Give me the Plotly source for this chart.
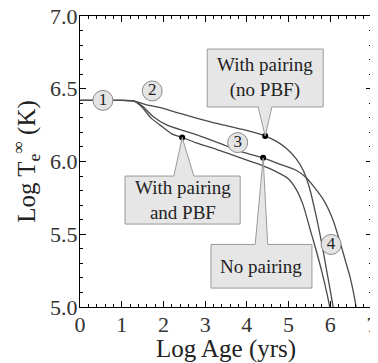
import plotly.graph_objects as go

# ---- data ----
pair_nopbf_x = [0, 0.5, 1.0, 1.3, 1.6, 1.93, 2.4, 2.77, 3.3, 3.9, 4.44, 4.7, 4.95, 5.18, 5.35, 5.5, 5.65, 5.8, 5.92, 6.02, 6.08]
pair_nopbf_y = [6.42, 6.42, 6.42, 6.415, 6.39, 6.37, 6.33, 6.30, 6.26, 6.22, 6.175, 6.14, 6.09, 6.02, 5.94, 5.82, 5.64, 5.43, 5.24, 5.08, 4.98]

nopair_x = [0, 0.5, 1.0, 1.3, 1.5, 1.75, 2.09, 2.5, 2.88, 3.4, 3.9, 4.39, 4.8, 5.18, 5.42, 5.83, 6.05, 6.24, 6.37, 6.47, 6.57, 6.63]
nopair_y = [6.42, 6.42, 6.42, 6.415, 6.38, 6.31, 6.25, 6.21, 6.175, 6.12, 6.065, 6.025, 5.98, 5.94, 5.89, 5.74, 5.61, 5.44, 5.31, 5.21, 5.08, 4.98]

pair_pbf_x = [0, 0.5, 1.0, 1.3, 1.5, 1.7, 1.92, 2.2, 2.45, 2.77, 3.3, 3.8, 4.3, 4.7, 5.0, 5.2, 5.35, 5.5, 5.65, 5.8, 5.93, 6.0]
pair_pbf_y = [6.42, 6.42, 6.42, 6.415, 6.37, 6.30, 6.25, 6.19, 6.165, 6.13, 6.08, 6.03, 5.98, 5.93, 5.88, 5.80, 5.70, 5.55, 5.40, 5.24, 5.08, 4.98]

dot_x = [4.44, 4.39, 2.45]
dot_y = [6.175, 6.025, 6.165]

stage_labels = ["1", "2", "3", "4"]
stage_x = [0.55, 1.73, 3.78, 6.02]
stage_y = [6.42, 6.485, 6.13, 5.43]

callout_texts = ["With pairing<br>(no PBF)", "With pairing<br>and PBF", "No pairing"]

x_ticks = [0, 1, 2, 3, 4, 5, 6, 7]
y_ticks = [5.0, 5.5, 6.0, 6.5, 7.0]

SERIF = "Liberation Serif"
LINE_COL = "#4a4a4a"

fig = go.Figure()

for xs, ys, name in [(pair_nopbf_x, pair_nopbf_y, "With pairing (no PBF)"),
                     (nopair_x, nopair_y, "No pairing"),
                     (pair_pbf_x, pair_pbf_y, "With pairing and PBF")]:
    fig.add_trace(go.Scatter(x=xs, y=ys, mode="lines", name=name,
                             line=dict(color=LINE_COL, width=1.3, shape="spline", smoothing=0.6),
                             showlegend=False, hoverinfo="skip"))

callouts = [
    dict(box=(3.05, 5.83, 6.375, 6.773), base=(4.27, 4.60), tip=(dot_x[0], dot_y[0]), side="bottom",
         text=callout_texts[0]),
    dict(box=(1.08, 3.84, 5.57, 5.90), base=(2.25, 2.73), tip=(dot_x[2], dot_y[2]), side="top",
         text=callout_texts[1]),
    dict(box=(3.14, 5.56, 5.13, 5.43), base=(4.20, 4.50), tip=(dot_x[1], dot_y[1]), side="top",
         text=callout_texts[2]),
]
for c in callouts:
    x0, x1, y0, y1 = c["box"]
    b0, b1 = c["base"]
    tx, ty = c["tip"]
    if c["side"] == "bottom":
        path = (f"M {x0} {y1} L {x1} {y1} L {x1} {y0} L {b1} {y0} L {tx} {ty} "
                f"L {b0} {y0} L {x0} {y0} Z")
    else:
        path = (f"M {x0} {y0} L {x1} {y0} L {x1} {y1} L {b1} {y1} L {tx} {ty} "
                f"L {b0} {y1} L {x0} {y1} Z")
    fig.add_shape(type="path", path=path, xref="x", yref="y",
                  fillcolor="#e6e6e6", line=dict(color="#9a9a9a", width=1), layer="above")
    fig.add_annotation(x=(x0 + x1) / 2, y=(y0 + y1) / 2, text=c["text"], showarrow=False,
                       font=dict(family=SERIF, size=19, color="#222"), xref="x", yref="y")

fig.add_trace(go.Scatter(x=dot_x, y=dot_y, mode="markers",
                         marker=dict(color="black", size=6), showlegend=False, hoverinfo="skip"))

fig.add_trace(go.Scatter(x=stage_x, y=stage_y, mode="markers+text", text=stage_labels,
                         textposition="middle center",
                         textfont=dict(family=SERIF, size=17, color="#222"),
                         marker=dict(size=20, color="#e4e4e4", line=dict(color="#8a8a8a", width=1)),
                         showlegend=False, hoverinfo="skip"))

axis_common = dict(showline=True, linecolor="black", linewidth=1, mirror="ticks",
                   ticks="inside", ticklen=6, tickcolor="black", showgrid=False, zeroline=False,
                   automargin=False, ticklabeloverflow="allow",
                   tickfont=dict(family=SERIF, size=22, color="#333"))

fig.update_xaxes(range=[0, 7], tickvals=x_ticks, ticktext=[str(v) for v in x_ticks],
                 minor=dict(dtick=0.2, ticks="inside", ticklen=3, tickcolor="black"),
                 ticklabelstandoff=-2,
                 title=dict(text="Log Age (yrs)", font=dict(family=SERIF, size=25, color="#222"),
                            standoff=0),
                 **axis_common)
fig.update_yaxes(range=[5, 7], tickvals=y_ticks, ticktext=[f"{v:.1f}" for v in y_ticks],
                 minor=dict(dtick=0.1, ticks="inside", ticklen=3, tickcolor="black"),
                 ticklabelstandoff=-3,
                 title=dict(text="Log T<sub>e</sub><sup>∞</sup> (K)",
                            font=dict(family=SERIF, size=25, color="#222"), standoff=22),
                 **axis_common)

# page body has an 8px default margin, so the figure is sized/offset to compensate
fig.update_layout(width=370, height=355, margin=dict(l=72, r=6, t=8, b=56),
                  paper_bgcolor="white", plot_bgcolor="white")

fig.write_html("out.html")
